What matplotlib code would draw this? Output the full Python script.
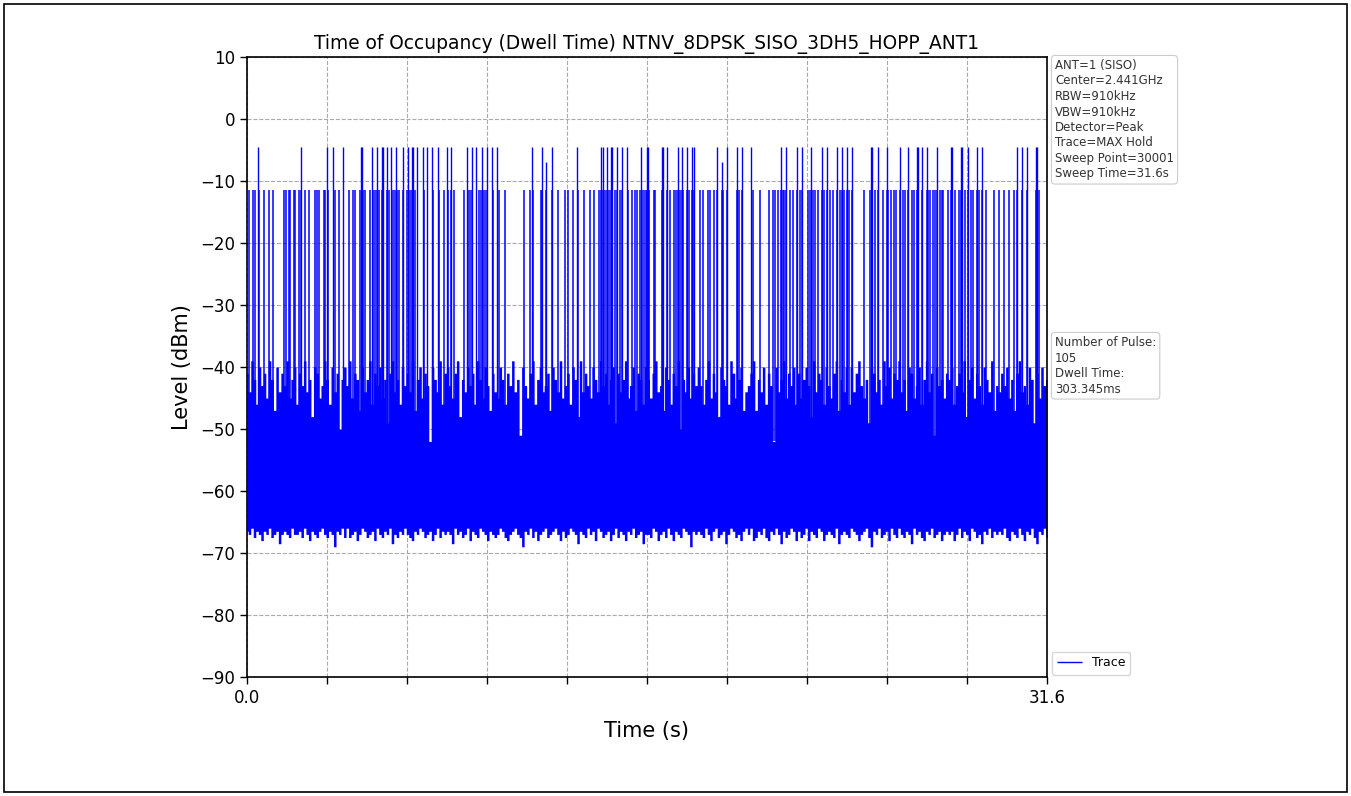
import numpy as np
import matplotlib
matplotlib.use("Agg")
import matplotlib.pyplot as plt
from matplotlib.patches import Rectangle

# ---- data ----
title = "Time of Occupancy (Dwell Time) NTNV_8DPSK_SISO_3DH5_HOPP_ANT1"
sweep_time = 31.6
y_ticks = [10, 0, -10, -20, -30, -40, -50, -60, -70, -80, -90]
x_tick_labels = ["0.0", "", "", "", "", "", "", "", "", "", "31.6"]

# tall pulses (dBm level ~ -4.5)
tall_t = [0.446, 2.133, 3.172, 3.385, 3.780, 4.503, 4.543, 4.926, 5.123, 5.321,
          5.384, 5.518, 5.688, 5.886, 6.174, 6.348, 6.506, 6.545, 6.703, 6.940,
          7.122, 7.319, 7.556, 7.912, 8.058, 8.678, 8.876, 9.046, 9.271, 9.492,
          9.689, 9.863, 11.269, 11.664, 11.799, 12.036, 13.047, 13.983, 14.050, 14.208,
          14.366, 14.429, 14.603, 14.801, 15.022, 15.563, 15.788, 15.851, 16.381, 16.444,
          16.578, 17.036, 17.171, 17.368, 17.566, 17.657, 18.577, 18.751, 18.972, 19.343,
          19.564, 19.908, 21.081, 21.279, 21.713, 21.934, 22.278, 22.701, 22.898, 23.317,
          23.514, 23.688, 23.886, 24.648, 24.699, 24.913, 25.268, 25.794, 26.098, 26.453,
          26.516, 26.651, 26.848, 27.243, 27.796, 27.859, 28.203, 28.254, 28.468, 28.823,
          29.021, 30.403, 30.624, 30.798, 31.154, 31.217]
tall_level = [-7.0 if t in (11.799, 18.751) else -4.5 for t in tall_t]

# medium pulses (dBm level ~ -11.5)
mid_t = [0.092, 0.250, 0.303, 0.474, 0.685, 0.869, 1.040, 1.475, 1.527, 1.659,
         1.699, 1.870, 1.909, 2.067, 2.133, 2.291, 2.449, 2.686, 2.752, 2.857,
         3.042, 3.081, 3.213, 3.476, 3.647, 4.042, 4.200, 4.266, 4.477, 4.542,
         4.595, 4.661, 4.858, 4.990, 5.056, 5.122, 5.227, 5.319, 5.385, 5.517,
         5.622, 5.714, 5.806, 5.885, 5.938, 6.017, 6.175, 6.307, 6.439, 6.504,
         6.570, 6.636, 6.992, 7.334, 7.584, 7.782, 7.953, 8.045, 8.190, 8.585,
         8.782, 8.848, 9.177, 9.230, 9.335, 9.414, 9.493, 9.730, 9.967, 10.191,
         10.955, 11.178, 11.310, 11.613, 11.666, 11.797, 12.034, 12.298, 12.561, 12.693,
         12.890, 13.088, 13.311, 13.548, 13.707, 13.917, 13.983, 14.049, 14.141, 14.207,
         14.299, 14.365, 14.431, 14.536, 14.602, 14.734, 14.800, 15.063, 15.194, 15.326,
         15.392, 15.524, 15.655, 15.721, 15.787, 15.892, 15.814, 16.077, 16.117, 16.380,
         16.446, 16.577, 16.709, 16.880, 16.946, 17.038, 17.104, 17.170, 17.236, 17.367,
         17.473, 17.565, 17.657, 17.894, 18.026, 18.223, 18.289, 18.447, 18.579, 18.750,
         18.816, 18.974, 19.342, 19.448, 19.566, 20.001, 20.264, 20.633, 20.764, 20.857,
         20.988, 21.080, 21.159, 21.212, 21.278, 21.449, 21.581, 21.712, 21.844, 21.936,
         22.173, 22.239, 22.345, 22.437, 22.568, 22.700, 22.792, 22.897, 23.029, 23.161,
         23.319, 23.424, 23.516, 23.582, 23.687, 23.793, 23.885, 24.372, 24.609, 24.675,
         24.807, 24.912, 25.136, 25.268, 25.333, 25.425, 25.557, 25.636, 25.794, 25.926,
         25.992, 26.097, 26.255, 26.347, 26.453, 26.518, 26.650, 26.848, 26.913, 26.979,
         27.111, 27.177, 27.242, 27.374, 27.440, 27.506, 27.703, 27.796, 27.861, 27.966,
         28.138, 28.204, 28.256, 28.362, 28.467, 28.599, 28.691, 28.823, 28.928, 29.020,
         29.178, 29.507, 29.705, 29.902, 30.100, 30.297, 30.403, 30.627, 30.798, 31.153,
         31.219, 31.285]
mid_level = -11.5
pulse_base = -52.0

# noise upper envelope (estimated, dBm, evenly spaced over the sweep)
grass_top = [
    -41, -44, -39, -42, -46, -40, -43, -41, -45, -39, -42, -47, -40, -44, -41, -43, -39, -45, -42, -40,
    -46, -41, -43, -39, -44, -42, -48, -40, -41, -45, -43, -39, -42, -46, -40, -44, -41, -50, -42, -40,
    -43, -39, -45, -41, -42, -47, -40, -44, -42, -39, -46, -41, -43, -40, -45, -42, -49, -41, -39, -44,
    -42, -46, -40, -43, -41, -44, -39, -47, -42, -40, -45, -41, -43, -52, -40, -42, -44, -39, -46, -41,
    -40, -43, -45, -41, -39, -48, -42, -44, -40, -43, -41, -46, -39, -42, -45, -40, -43, -47, -41, -44,
    -45, -40, -42, -46, -41, -43, -39, -44, -42, -51, -40, -43, -45, -41, -39, -46, -42, -40, -44, -43,
    -41, -47, -40, -42, -44, -39, -45, -43, -41, -46, -40, -42, -48, -39, -44, -41, -43, -45, -40, -42,
    -44, -39, -43, -41, -46, -42, -40, -49, -41, -44, -42, -39, -45, -43, -40, -47, -41, -42, -46, -40,
    -42, -45, -41, -39, -44, -43, -47, -40, -42, -46, -41, -43, -39, -50, -42, -44, -40, -45, -41, -43,
    -40, -43, -46, -42, -39, -45, -41, -44, -48, -40, -42, -43, -46, -39, -41, -45, -42, -40, -47, -44,
    -43, -41, -39, -47, -42, -44, -40, -46, -41, -43, -52, -40, -44, -42, -39, -45, -41, -43, -40, -46,
    -41, -45, -42, -40, -43, -48, -39, -44, -41, -42, -46, -40, -43, -45, -41, -39, -47, -42, -44, -40,
    -46, -40, -44, -41, -39, -43, -45, -42, -49, -40, -41, -44, -42, -46, -39, -43, -40, -45, -41, -42,
    -39, -44, -42, -47, -40, -41, -45, -43, -40, -46, -42, -39, -44, -41, -51, -40, -43, -42, -45, -41,
    -42, -40, -46, -43, -41, -44, -39, -48, -42, -40, -45, -41, -43, -46, -40, -42, -44, -39, -47, -43,
    -44, -41, -43, -40, -45, -42, -47, -41, -39, -44, -43, -46, -40, -42, -49, -41, -45, -40, -43, -42,
]

# noise lower envelope (estimated, dBm, same spacing)
floor_bottom = [
    -66.5, -67, -66, -67.5, -66.5, -67, -68, -66.5, -67, -66, -67.5, -67, -66.5, -68.5, -67, -66.5, -67, -67.5, -66, -67,
    -67, -66.5, -67.5, -66, -67, -68, -66.5, -67, -67.5, -66.5, -66, -67, -67.5, -66.5, -67, -69, -66.5, -67, -66, -67.5,
    -66, -67.5, -67, -66.5, -68, -67, -66, -66.5, -67.5, -67, -66.5, -68, -66, -67, -67.5, -66.5, -67, -66, -68.5, -67,
    -67.5, -66.5, -67, -66, -67, -67.5, -68, -66.5, -67, -66, -66.5, -67.5, -67, -66.5, -68, -67, -66, -67.5, -66.5, -67,
    -66.5, -67, -68.5, -66, -67, -66.5, -67.5, -67, -66, -68, -66.5, -67, -67.5, -66, -66.5, -67, -68, -66.5, -67, -67.5,
    -67, -66, -66.5, -67.5, -68, -67, -66.5, -66, -67, -67.5, -69, -66.5, -67, -66, -67.5, -66.5, -68, -67, -66.5, -66,
    -67.5, -67, -66.5, -66, -67, -68, -66.5, -67.5, -67, -66, -66.5, -67, -68.5, -66.5, -67, -67.5, -66, -67, -66.5, -68,
    -66, -66.5, -67.5, -67, -66.5, -68, -67, -66, -67.5, -66.5, -67, -68, -66.5, -67, -66, -67.5, -67, -66.5, -68.5, -67,
    -67, -67.5, -66, -66.5, -68, -67, -66.5, -67.5, -66, -67, -68, -66.5, -67, -67.5, -66, -66.5, -67, -69, -66.5, -67,
    -66.5, -67, -67.5, -66, -67, -68, -66.5, -66, -67.5, -67, -66.5, -68.5, -67, -66, -66.5, -67.5, -67, -68, -66.5, -66,
    -67, -66, -68, -67.5, -66.5, -67, -66, -67.5, -68, -66.5, -67, -66, -67, -68.5, -66.5, -67.5, -67, -66, -66.5, -68,
    -66.5, -67.5, -67, -66, -68, -66.5, -67, -67.5, -66, -66.5, -68, -67, -66.5, -67, -67.5, -66, -68.5, -67, -66.5, -67,
    -67.5, -66, -66.5, -67, -68, -67, -66.5, -66, -67.5, -69, -66.5, -67, -66, -67.5, -67, -66.5, -68, -66, -67, -67.5,
    -66, -67, -67.5, -66.5, -67, -68.5, -66, -67, -66.5, -67.5, -68, -66.5, -67, -66, -67.5, -67, -66.5, -68, -67, -66.5,
    -67, -66.5, -68, -67, -66, -67.5, -66.5, -67, -68, -66, -66.5, -67.5, -67, -68.5, -66.5, -67, -66, -67.5, -66.5, -67,
    -66.5, -67, -66, -67.5, -68, -66.5, -67, -67.5, -66, -67, -68, -66.5, -67, -66, -67.5, -68.5, -66.5, -67, -66, -67.5,
]

info_text = ("ANT=1 (SISO)\nCenter=2.441GHz\nRBW=910kHz\nVBW=910kHz\n"
             "Detector=Peak\nTrace=MAX Hold\nSweep Point=30001\nSweep Time=31.6s")
pulse_text = "Number of Pulse:\n105\nDwell Time:\n303.345ms"

# ---- figure ----
W, H = 1351, 796
fig = plt.figure(figsize=(W / 100, H / 100), dpi=100)
ax = fig.add_axes([247 / W, 1 - 677 / H, 800 / W, 620 / H])
blue = "#0000ff"

t_n = np.linspace(0, sweep_time, len(grass_top))
ax.fill_between(t_n, floor_bottom, grass_top, step="mid", color=blue, lw=0, zorder=2)
ax.vlines(mid_t, pulse_base, mid_level, color=blue, lw=1.1, zorder=3)
ax.vlines(tall_t, pulse_base, tall_level, color=blue, lw=1.0, zorder=3, label="Trace")

ax.set_xlim(0, sweep_time)
ax.set_ylim(-90, 10)
ax.set_yticks(y_ticks)
ax.set_xticks(np.linspace(0, sweep_time, len(x_tick_labels)))
ax.set_xticklabels(x_tick_labels)
ax.tick_params(labelsize=12, length=5, width=1)
ax.grid(True, ls="--", color="#aaaaaa", lw=0.8)
ax.set_axisbelow(True)
for s in ax.spines.values():
    s.set_linewidth(1.2)

ax.set_title(title, fontsize=13.4, pad=6)
ax.set_ylabel("Level (dBm)", fontsize=15, labelpad=6)
ax.set_xlabel("Time (s)", fontsize=15, labelpad=10)

box = dict(boxstyle="round,pad=0.3", fc="white", ec="#cccccc", lw=0.8)
fig.text(1055 / W, 1 - 59 / H, info_text, ha="left", va="top", fontsize=8.5,
         color="#333333", bbox=box, linespacing=1.25)
fig.text(1055 / W, 1 - 336 / H, pulse_text, ha="left", va="top", fontsize=8.5,
         color="#333333", bbox=box, linespacing=1.25)

ax.legend(loc="lower left", bbox_to_anchor=(1.003, 0.0), fontsize=9,
          frameon=True, edgecolor="#cccccc", handlelength=2.0, borderaxespad=0.2)

fig.add_artist(Rectangle((4 / W, 4 / H), 1 - 8 / W, 1 - 8 / H, transform=fig.transFigure,
                         fill=False, ec="black", lw=1.2))

fig.savefig("out.png", dpi=100)
